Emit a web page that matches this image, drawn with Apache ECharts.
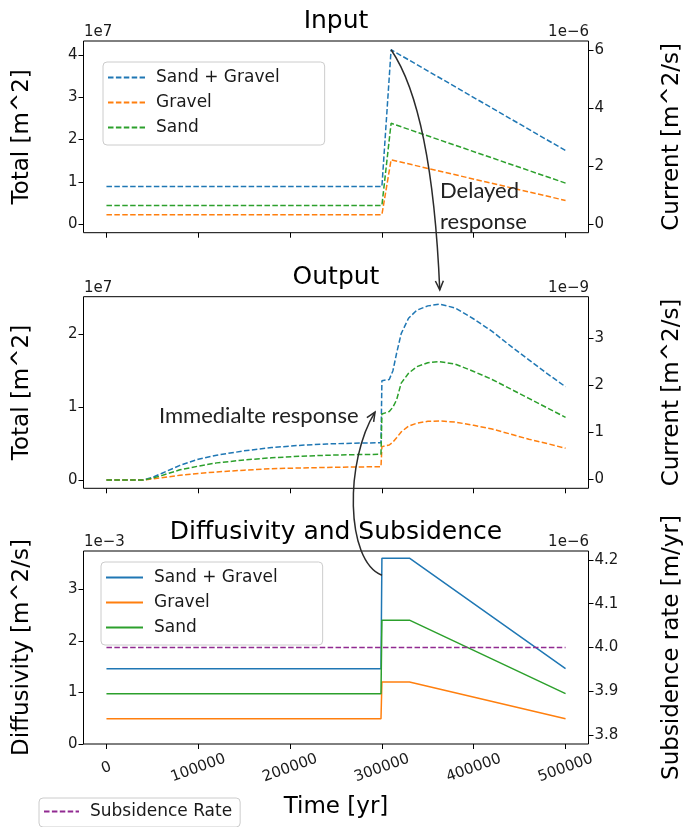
<!DOCTYPE html>
<html><head><meta charset="utf-8">
<script src="https://cdn.jsdelivr.net/npm/echarts@6/dist/echarts.min.js"></script>
<style>html,body{margin:0;padding:0;background:#fff}#c{width:683px;height:827px}</style>
</head><body><div id="c"></div>
<script>
// ---------- data ----------
const xTicks = [0, 100000, 200000, 300000, 400000, 500000];
const xTickLabels = ['0', '100000', '200000', '300000', '400000', '500000'];

// Input panel (left axis in 1e7 m^2)
const inX = [0, 300000, 310000, 500000];
const inSandGravel = [0.888, 0.888, 4.13, 1.74];
const inGravel = [0.22, 0.22, 1.52, 0.558];
const inSand = [0.44, 0.44, 2.386, 0.969];
const inLeftTicks = [0, 1, 2, 3, 4];
const inLeftLabels = ['0', '1', '2', '3', '4'];
const inRightTicks = [0, 2, 4, 6];
const inRightLabels = ['0', '2', '4', '6'];

// Output panel (left axis in 1e7 m^2)
const outX = [0, 40000, 50000, 60000, 80000, 100000, 120000, 150000, 180000, 210000, 240000, 270000, 299000,
  300000, 308000, 312000, 316000, 321000, 329000, 338000, 350000, 363000, 380000, 400000, 420000, 440000, 460000, 480000, 500000];
const outSandGravel = [0, 0, 0.035, 0.09, 0.2, 0.285, 0.34, 0.40, 0.445, 0.475, 0.495, 0.505, 0.512,
  1.363, 1.38, 1.5, 1.74, 2.01, 2.22, 2.33, 2.39, 2.415, 2.36, 2.21, 2.04, 1.84, 1.65, 1.46, 1.28];
const outGravel = [0, 0, 0.015, 0.03, 0.065, 0.09, 0.11, 0.135, 0.155, 0.165, 0.172, 0.178, 0.183,
  0.457, 0.48, 0.52, 0.58, 0.66, 0.74, 0.78, 0.805, 0.81, 0.795, 0.75, 0.70, 0.63, 0.56, 0.50, 0.435];
const outSand = [0, 0, 0.025, 0.06, 0.14, 0.19, 0.235, 0.275, 0.305, 0.325, 0.34, 0.348, 0.353,
  0.906, 0.94, 1.0, 1.10, 1.33, 1.465, 1.555, 1.61, 1.625, 1.59, 1.49, 1.38, 1.25, 1.12, 0.99, 0.86];
const outLeftTicks = [0, 1, 2];
const outLeftLabels = ['0', '1', '2'];
const outRightTicks = [0, 1, 2, 3];
const outRightLabels = ['0', '1', '2', '3'];

// Diffusivity panel (left axis in 1e-3 m^2/s, right axis in 1e-6 m/yr)
const difX = [0, 299000, 300000, 330000, 500000];
const difSandGravel = [1.46, 1.46, 3.6, 3.6, 1.46];
const difGravel = [0.49, 0.49, 1.2, 1.2, 0.49];
const difSand = [0.975, 0.975, 2.4, 2.4, 0.975];
const subX = [0, 500000];
const subRate = [4.0, 4.0];
const difTicks = [0, 1, 2, 3];
const difLabels = ['0', '1', '2', '3'];
const subTicks = [3.8, 3.9, 4.0, 4.1, 4.2];
const subLabels = ['3.8', '3.9', '4.0', '4.1', '4.2'];

const legendNames = {
  in_sg: 'Sand + Gravel', in_g: 'Gravel', in_s: 'Sand',
  dif_sg: 'Sand + Gravel', dif_g: 'Gravel', dif_s: 'Sand',
  sub: 'Subsidence Rate'
};

// ---------- chart ----------
const FONT = 'DejaVu Sans';
const ANN_FONT = 'Lato';
const C_SG = '#1f77b4', C_G = '#ff7f0e', C_S = '#2ca02c', C_SUB = '#912a91';
const DASH = [5.5, 2.4];
const pts = (xs, ys) => xs.map((x, i) => [x, ys[i]]);
const labelFor = (v, ticks, labels) => {
  for (let i = 0; i < ticks.length; i++) if (Math.abs(ticks[i] - v) < 1e-9) return labels[i];
  return '';
};

const grids = [
  { left: 83.5, top: 41, width: 505, height: 191.7 },
  { left: 83.5, top: 296.7, width: 505, height: 191.6 },
  { left: 83.5, top: 551, width: 505, height: 193 }
].map(g => Object.assign(g, {
  show: true, borderColor: '#000', borderWidth: 1, backgroundColor: 'transparent',
  containLabel: false, outerBoundsMode: 'none'
}));

function xAx(gi, showLabels) {
  return {
    type: 'value', gridIndex: gi, min: -25000, max: 525000,
    splitLine: { show: false }, axisLine: { show: false, onZero: false },
    axisTick: { show: true, inside: false, length: 5, customValues: xTicks, lineStyle: { color: '#000', width: 1 } },
    axisLabel: {
      show: showLabels, customValues: xTicks, rotate: 20, align: 'center', verticalAlign: 'middle', margin: 24,
      formatter: v => labelFor(v, xTicks, xTickLabels), fontFamily: FONT, fontSize: 15, color: '#1a1a1a'
    },
    name: showLabels ? 'Time [yr]' : '', nameLocation: 'middle', nameGap: 52,
    nameTextStyle: { fontFamily: FONT, fontSize: 23, color: '#000' }
  };
}
function yAx(gi, pos, min, max, ticks, labels, name, gap) {
  return {
    type: 'value', gridIndex: gi, position: pos, min, max,
    splitLine: { show: false }, axisLine: { show: false, onZero: false },
    axisTick: { show: true, inside: false, length: 5, customValues: ticks, lineStyle: { color: '#000', width: 1 } },
    axisLabel: {
      show: true, customValues: ticks, margin: 6, formatter: v => labelFor(v, ticks, labels),
      fontFamily: FONT, fontSize: 15, color: '#1a1a1a'
    },
    name, nameLocation: 'middle', nameRotate: 90, nameGap: gap,
    nameTextStyle: { fontFamily: FONT, fontSize: 23, color: '#000' }
  };
}
function ln(name, xi, yi, xs, ys, color, dashed) {
  return {
    type: 'line', name, xAxisIndex: xi, yAxisIndex: yi, data: pts(xs, ys), symbol: 'none',
    lineStyle: { color, width: 1.5, type: dashed ? DASH : 'solid' }, itemStyle: { color },
    animation: false, silent: true
  };
}
function lg(names, left, top, padding, itemWidth) {
  return {
    data: names, orient: 'vertical', left, top, padding, itemWidth, itemHeight: 14, itemGap: 8,
    borderColor: '#cccccc', borderWidth: 1, borderRadius: 4, backgroundColor: 'rgba(255,255,255,0.8)',
    selectedMode: false, formatter: n => legendNames[n],
    itemStyle: { opacity: 0, borderWidth: 0 },
    textStyle: { fontFamily: FONT, fontSize: 17, color: '#1a1a1a', padding: [0, 0, 0, 6] }
  };
}

const titleStyle = { fontFamily: FONT, fontSize: 25, fontWeight: 'normal', color: '#000' };
const option = {
  animation: false,
  backgroundColor: '#ffffff',
  grid: grids,
  xAxis: [xAx(0, false), xAx(1, false), xAx(2, true)],
  yAxis: [
    yAx(0, 'left', -0.2065, 4.3365, inLeftTicks, inLeftLabels, 'Total [m^2]', 50),
    yAx(0, 'right', -0.301, 6.321, inRightTicks, inRightLabels, 'Current [m^2/s]', 72),
    yAx(1, 'left', -0.114, 2.516, outLeftTicks, outLeftLabels, 'Total [m^2]', 50),
    yAx(1, 'right', -0.185, 3.89, outRightTicks, outRightLabels, 'Current [m^2/s]', 72),
    yAx(2, 'left', 0, 3.74, difTicks, difLabels, 'Diffusivity [m^2/s]', 50),
    yAx(2, 'right', 3.78, 4.22, subTicks, subLabels, 'Subsidence rate [m/yr]', 72)
  ],
  title: [
    { text: 'Input', left: 336, top: 9, textAlign: 'center', padding: 0, textStyle: titleStyle },
    { text: 'Output', left: 336, top: 265, textAlign: 'center', padding: 0, textStyle: titleStyle },
    { text: 'Diffusivity and Subsidence', left: 336, top: 520, textAlign: 'center', padding: 0, textStyle: titleStyle }
  ],
  legend: [
    lg(['in_sg', 'in_g', 'in_s'], 103, 62, [7, 45, 9, 4], 37),
    lg(['dif_sg', 'dif_g', 'dif_s'], 101, 562, [7, 45, 9, 4], 37),
    lg(['sub'], 39, 798, [5, 8, 7, 4], 35)
  ],
  series: [
    ln('in_sg', 0, 0, inX, inSandGravel, C_SG, true),
    ln('in_g', 0, 0, inX, inGravel, C_G, true),
    ln('in_s', 0, 0, inX, inSand, C_S, true),
    ln('out_sg', 1, 2, outX, outSandGravel, C_SG, true),
    ln('out_g', 1, 2, outX, outGravel, C_G, true),
    ln('out_s', 1, 2, outX, outSand, C_S, true),
    ln('dif_sg', 2, 4, difX, difSandGravel, C_SG, false),
    ln('dif_g', 2, 4, difX, difGravel, C_G, false),
    ln('dif_s', 2, 4, difX, difSand, C_S, false),
    ln('sub', 2, 5, subX, subRate, C_SUB, true)
  ]
};

const chart = echarts.init(document.getElementById('c'), null, { renderer: 'canvas' });
chart.setOption(option);

// ---------- annotations ----------
const P = (xi, yi, x, y) => chart.convertToPixel({ xAxisIndex: xi, yAxisIndex: yi }, [x, y]);
function head(tip, from, L, W) {
  const dx = tip[0] - from[0], dy = tip[1] - from[1];
  const n = Math.hypot(dx, dy) || 1, ux = dx / n, uy = dy / n;
  const bx = tip[0] - ux * L, by = tip[1] - uy * L;
  return [[bx - uy * W, by + ux * W], tip, [bx + uy * W, by - ux * W]];
}
const stroke = { stroke: '#2b2b2b', lineWidth: 1.5, fill: null };
const a0 = P(0, 0, 310000, 4.13), a1 = P(1, 2, 363000, 2.61);
const ac = [a0[0] + 41, a0[1] + 60];
const b0 = P(2, 4, 300000, 3.27), b1 = P(1, 2, 292500, 0.933);
const bc1 = [b0[0] - 37, b0[1] - 15], bc2 = [b1[0] - 30, b1[1] + 48];
const txt = (text, x, y, opts) => Object.assign({
  type: 'text', x, y, z: 50, silent: true,
  style: Object.assign({ text, fontFamily: FONT, fontSize: 15, fill: '#1a1a1a', align: 'left', verticalAlign: 'bottom' }, opts || {})
});

chart.setOption({
  graphic: [
    { type: 'bezierCurve', z: 60, silent: true, shape: { x1: a0[0], y1: a0[1], x2: a1[0], y2: a1[1], cpx1: ac[0], cpy1: ac[1] }, style: stroke },
    { type: 'polyline', z: 60, silent: true, shape: { points: head(a1, ac, 9, 4) }, style: stroke },
    { type: 'bezierCurve', z: 60, silent: true, shape: { x1: b0[0], y1: b0[1], x2: b1[0], y2: b1[1], cpx1: bc1[0], cpy1: bc1[1], cpx2: bc2[0], cpy2: bc2[1] }, style: stroke },
    { type: 'polyline', z: 60, silent: true, shape: { points: head(b1, bc2, 9, 4) }, style: stroke },
    txt('1e7', 84, 40),
    txt('1e\u22126', 589, 40, { align: 'right' }),
    txt('1e7', 84, 296),
    txt('1e\u22129', 589, 296, { align: 'right' }),
    txt('1e\u22123', 84, 550),
    txt('1e\u22126', 589, 550, { align: 'right' }),
    txt('Delayed', 440, 191, { fontFamily: ANN_FONT, fontSize: 22, verticalAlign: 'middle', fill: '#222' }),
    txt('response', 440, 222, { fontFamily: ANN_FONT, fontSize: 22, verticalAlign: 'middle', fill: '#222' }),
    txt('Immedialte response', 159, 416, { fontFamily: ANN_FONT, fontSize: 22, verticalAlign: 'middle', fill: '#222' })
  ]
});
</script>
</body></html>
